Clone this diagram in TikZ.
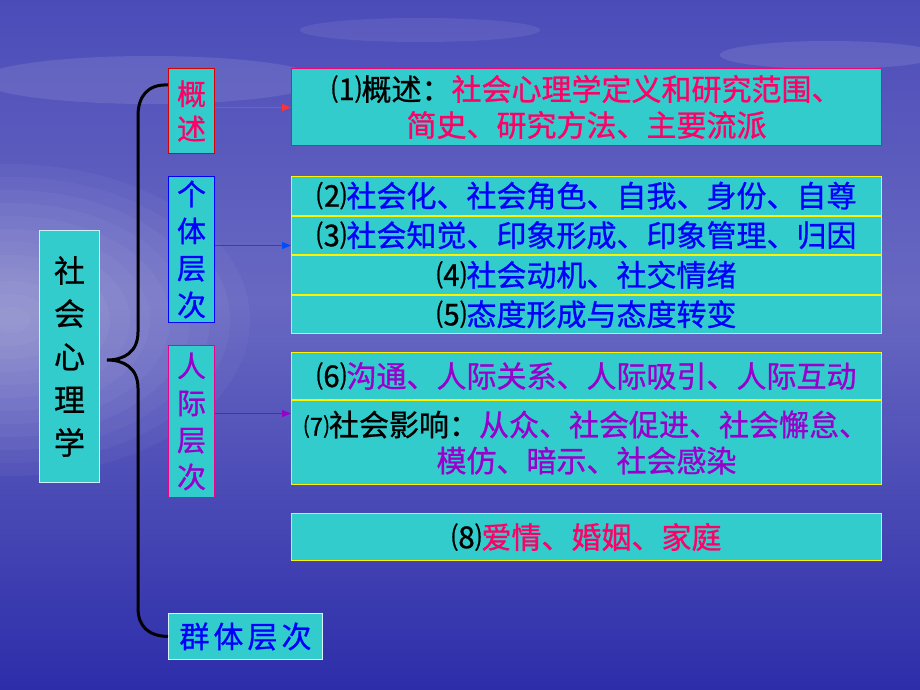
\documentclass[tikz,border=0pt]{standalone}
\usepackage{fontspec}
\newfontfamily\cjk[FakeBold=0.8]{Noto Sans CJK SC}
\usetikzlibrary{positioning,arrows.meta}
\definecolor{boxfill}{HTML}{33CCCC}
\definecolor{pinkred}{HTML}{FF0066}
\definecolor{purpletext}{HTML}{9900CC}
\definecolor{bluetext}{HTML}{0000FF}
\definecolor{bgtop}{HTML}{4C4CB9}
\definecolor{bgmid}{HTML}{6868C2}
\definecolor{bgbot}{HTML}{2D2DAA}

\begin{document}
\begin{tikzpicture}[x=1pt,y=-1pt,
    box/.style={draw, fill=boxfill, line width=1pt, inner sep=0pt, anchor=north west,
        align=center, font=\cjk\fontsize{30}{36}\selectfont},
    side/.style={box, minimum width=46pt, font=\cjk\fontsize{29}{37}\selectfont},
    item/.style={box, draw=yellow, minimum width=590pt},
    arr/.style={-{Triangle[length=9pt,width=7pt]}, line width=0.8pt},
    brace/.style={line width=3pt}]
    % Background
    \useasboundingbox (0,0) rectangle (920,690);
    \shade[top color=bgtop, bottom color=bgmid] (0,0) rectangle (920,300);
    \shade[top color=bgmid, bottom color=bgbot] (0,300) rectangle (920,690);
    \foreach \r in {1,...,12}
        \fill[white, opacity=0.035] (10,320) ellipse ({20*\r} and {13*\r});
    \fill[white, opacity=0.10] (150,80) ellipse (170 and 24);
    \fill[white, opacity=0.08] (420,30) ellipse (120 and 12);
    \fill[white, opacity=0.10] (830,55) ellipse (110 and 14);
    % Define nodes
    \node[box, draw=cyan!20, minimum width=60pt, minimum height=252pt,
        font=\cjk\fontsize{31}{43}\selectfont] (xinli) at (39,230) {社\\会\\心\\理\\学};
    \node[side, draw=red!85!black, text=pinkred, minimum height=85pt, font=\cjk\fontsize{29}{35}\selectfont]
        (gaishu) at (168,68) {概\\述};
    \node[side, draw=blue, text=bluetext, minimum height=146pt] (geti) at (168,176) {个\\体\\层\\次};
    \node[side, draw=magenta, text=purpletext, minimum height=152pt] (renji) at (168,345) {人\\际\\层\\次};
    \node[box, draw=cyan!15, text=bluetext, minimum width=154pt, minimum height=46pt]
        (qunti) at (168,613) {群\hspace{4pt}体\hspace{4pt}层\hspace{4pt}次};
    \node[item, draw=magenta!80!red, text=pinkred, minimum height=77pt]
        (p1) at (291,68) {\textcolor{black}{⑴概述：}社会心理学定义和研究范围、\\简史、研究方法、主要流派};
    \node[item, text=bluetext, minimum height=38.5pt] (p2) at (291,176) {\textcolor{black}{⑵}社会化、社会角色、自我、身份、自尊};
    \node[item, text=bluetext, minimum height=38.5pt, below=0pt of p2] (p3) {\textcolor{black}{⑶}社会知觉、印象形成、印象管理、归因};
    \node[item, text=bluetext, minimum height=38.5pt, below=0pt of p3] (p4) {\textcolor{black}{⑷}社会动机、社交情绪};
    \node[item, text=bluetext, minimum height=38.5pt, below=0pt of p4] (p5) {\textcolor{black}{⑸}态度形成与态度转变};
    \node[item, text=purpletext, minimum height=47pt] (p6) at (291,352) {\textcolor{black}{⑹}沟通、人际关系、人际吸引、人际互动};
    \node[item, text=purpletext, minimum height=84pt, below=0pt of p6] (p7)
        {\textcolor{black}{{\fontsize{25}{36}\selectfont ⑺}社会影响：}从众、社会促进、社会懈怠、\\模仿、暗示、社会感染};
    \node[item, text=pinkred, minimum height=47pt] (p8) at (291,513) {\textcolor{black}{⑻}爱情、婚姻、家庭};
    % Connect nodes
    \coordinate (tip) at (107,360);
    \draw[brace] ([yshift=26pt]gaishu.west) .. controls (148,84) and (138,96) .. (138,116) -- (138,332)
        .. controls (138,352) and (124,360) .. (tip) .. controls (124,360) and (138,368) .. (138,388)
        -- (138,608) .. controls (138,626) and (148,636) .. (qunti.west);
    \draw[arr, red!80!white] ([yshift=3.5pt]gaishu.east) -- ([yshift=3.5pt]gaishu.east -| p1.west);
    \draw[arr, blue!70!cyan] ([yshift=4pt]geti.east) -- ([yshift=4pt]geti.east -| p3.west);
    \draw[arr, purpletext] ([yshift=8pt]renji.east) -- ([yshift=8pt]renji.east -| p7.west);
\end{tikzpicture}
\end{document}
